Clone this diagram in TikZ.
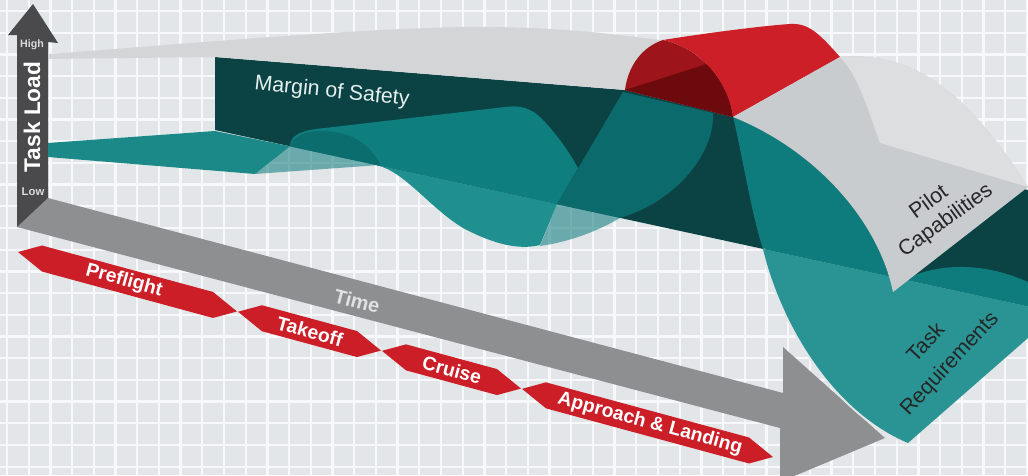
\documentclass[tikz,border=0pt]{standalone}
\usepackage{fontspec}
\setmainfont{Liberation Sans}
\definecolor{bgc}{HTML}{E3E6E9}
\definecolor{gridc}{HTML}{F7F8F9}
\definecolor{axisc}{HTML}{4A4A4C}
\definecolor{timec}{HTML}{8E8F91}
\definecolor{phasec}{HTML}{CB1E27}
\definecolor{wallc}{HTML}{0B4345}
\definecolor{stripc}{HTML}{1B8987}
\definecolor{dipc}{HTML}{1F908F}
\definecolor{plateauc}{HTML}{0F7E7E}
\definecolor{bumpc}{HTML}{0C6D6E}
\definecolor{innerc}{HTML}{0B6A6B}
\definecolor{desctopc}{HTML}{0E7B7C}
\definecolor{reqc}{HTML}{2A9393}
\definecolor{capc}{HTML}{D3D5D7}
\definecolor{caplightc}{HTML}{DDDEDF}
\definecolor{capdarkc}{HTML}{C8CCCE}
\definecolor{redc}{HTML}{CD1F27}
\definecolor{reddc}{HTML}{9D151A}
\definecolor{redddc}{HTML}{6C0A0D}
\definecolor{hilo}{HTML}{DADADA}
\definecolor{timetext}{HTML}{E0E1E2}
\definecolor{margintext}{HTML}{E6EEEE}
\definecolor{labeldark}{HTML}{262626}
\begin{document}
\begin{tikzpicture}[x=0.75pt,y=-0.75pt,
  lbl/.style={inner sep=0pt, align=center},
  phasetext/.style={lbl, text=white, font=\bfseries\fontsize{14.5}{14.5}\selectfont, rotate=-15.2},
  ribbonlbl/.style={lbl, text=labeldark, font=\fontsize{16}{16}\selectfont},
  gridline/.style={gridc, line width=1.7pt},
  patch/.style={fill=plateauc, fill opacity=0.57}]
\useasboundingbox (0,0) rectangle (1028,475);
\clip (0,0) rectangle (1028,475);
% background and grid
\fill[bgc] (0,0) rectangle (1028,475);
\foreach \i in {0,...,47} \draw[gridline] ({7+21.7*\i},0) -- ({7+21.7*\i},475);
\foreach \j in {0,...,21} \draw[gridline] (0,{11+21.7*\j}) -- (1028,{11+21.7*\j});
% time arrow
\fill[timec] (48,198) -- (783,393) -- (783,347) -- (885,438) -- (780,482) -- (780,428) -- (17,227) -- cycle;
% task load arrow
\fill[axisc] (17,35) -- (8,35) -- (33,4) -- (58,43) -- (48,42) -- (48,198) -- (17,227) -- cycle;
% phase banners
\foreach \a/\b in {18/237,238/381,382/521,522/773}{
  \fill[phasec] ({\a},{252+0.2715*(\a-18)}) -- ({\a+24},{252+0.2715*(\a+6)-13})
    -- ({\b-24},{252+0.2715*(\b-42)-13}) -- ({\b},{252+0.2715*(\b-18)})
    -- ({\b-24},{252+0.2715*(\b-42)+13}) -- ({\a+24},{252+0.2715*(\a+6)+13}) -- cycle;
}
% margin of safety wall
\fill[wallc] (215,57) -- (625,90) -- (733,117) -- (1028,190) -- (1028,306.4) -- (215,130) -- cycle;
% pilot capabilities, left part
\fill[capc] (48,54) .. controls (150,47) and (330,30) .. (460,27) .. controls (560,26) and (620,35) .. (668,41)
  -- (625,90) -- (215,57) -- (48,59) -- cycle;
% task requirements, left and middle
\fill[stripc] (48,143) -- (215,131) -- (290,146.3) -- (255,174) -- (48,157) -- cycle;
\fill[patch] (255,174) -- (290,146.3) -- (377,165.2) -- cycle;
\fill[dipc] (377,165.2) -- (557,204.2) -- (540,245) .. controls (520,250) and (495,245) .. (463,228)
  .. controls (430,208) and (405,172) .. (377,165.2) -- cycle;
\fill[patch] (557,204.2) -- (620,217.9) .. controls (600,230) and (570,242) .. (540,246) -- cycle;
\fill[plateauc] (290,146.3) .. controls (290,136) and (300,130) .. (325,128) -- (505,107)
  .. controls (520,105) and (530,108) .. (540,117) .. controls (555,132) and (568,150) .. (578,168)
  -- (557,204.2) -- cycle;
\fill[bumpc] (290,146.3) .. controls (293,136) and (305,131) .. (322,131)
  .. controls (345,131) and (362,140) .. (372,152) .. controls (376,157) and (379,162) .. (381,166) -- cycle;
\fill[innerc] (623,92) -- (713,113) .. controls (715,150) and (680,200) .. (620,217.9) -- (557,204.2) -- cycle;
% task requirements, right part
\fill[desctopc] (733,116) .. controls (745,170) and (752,215) .. (763,249) -- (1028,306.4) -- (1028,282)
  .. controls (990,265) and (950,262) .. (915,275) -- (893,292)
  .. controls (878,220) and (815,150) .. (733,117) -- cycle;
\draw[bgc, line width=3pt] (763,249) .. controls (780,320) and (830,410) .. (908,443);
\fill[reqc] (763,249) .. controls (780,320) and (830,410) .. (908,443) -- (1028,338) -- (1028,306.4) -- cycle;
% red hump
\fill[reddc] (625,90) .. controls (628,66) and (642,47) .. (663,40) .. controls (700,48) and (728,80) .. (733,117) -- cycle;
\fill[redddc] (625,90) -- (707,64) .. controls (722,80) and (731,98) .. (733,117) -- cycle;
\fill[redc] (663,40) .. controls (700,34) and (760,26) .. (790,24) .. controls (808,23) and (818,32) .. (840,57)
  -- (733,117) .. controls (728,80) and (700,48) .. (663,40) -- cycle;
% pilot capabilities, right part
\fill[capdarkc] (840,57) .. controls (905,52) and (960,80) .. (1028,187) -- (893,292)
  .. controls (878,220) and (815,150) .. (733,117) -- cycle;
\fill[caplightc] (840,57) .. controls (905,52) and (960,80) .. (1028,187) -- (880,143)
  .. controls (868,110) and (858,75) .. (840,57) -- cycle;
% labels
\node[lbl, text=hilo, font=\bfseries\fontsize{8}{8}\selectfont] (high) at (32,45) {High};
\node[lbl, text=white, font=\bfseries\fontsize{17}{17}\selectfont, rotate=90] (taskload) at (32,117) {Task Load};
\node[lbl, text=hilo, font=\bfseries\fontsize{8.5}{8.5}\selectfont] (low) at (33,192) {Low};
\node[lbl, text=timetext, font=\bfseries\fontsize{15}{15}\selectfont, rotate=-14.8] (time) at (357,301) {Time};
\node[phasetext] (preflight) at (124,280.8) {Preflight};
\node[phasetext] (takeoff) at (310,331.3) {Takeoff};
\node[phasetext] (cruise) at (452,369.8) {Cruise};
\node[phasetext] (approach) at (650,423.6) {Approach \& Landing};
\node[lbl, text=margintext, font=\fontsize{16}{16}\selectfont, rotate=-6] (margin) at (332,92) {Margin of Safety};
\node[ribbonlbl, rotate=36] (pilot) at (928,201) {Pilot};
\node[ribbonlbl, rotate=36] (capab) at (946,221) {Capabilities};
\node[ribbonlbl, rotate=47] (task) at (925,342) {Task};
\node[ribbonlbl, rotate=47] (requirements) at (950,364) {Requirements};
\end{tikzpicture}
\end{document}
